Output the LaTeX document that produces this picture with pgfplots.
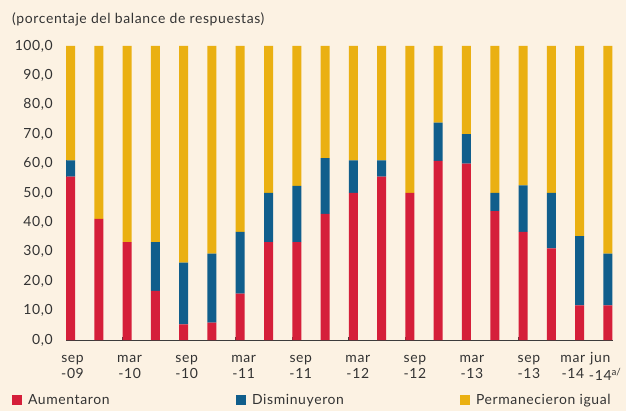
\documentclass[border=0pt]{standalone}
\usepackage{pgfplots}
\pgfplotsset{compat=1.18}
\usepackage{pgfplotstable}
\usepackage{fontspec}
\setmainfont{Lato}[LetterSpace=4.5]
\definecolor{bg}{HTML}{FCF2E3}
\definecolor{cred}{HTML}{D51F3A}
\definecolor{cblue}{HTML}{105E8C}
\definecolor{cyel}{HTML}{EAB012}
\definecolor{txt}{HTML}{333333}
\definecolor{axc}{HTML}{3C3C3C}

\pgfplotstableread{
x A D P
0 55.6 5.5 38.9
1 41.2 0.0 58.8
2 33.3 0.0 66.7
3 16.7 16.6 66.7
4 5.3 21.0 73.7
5 5.9 23.5 70.6
6 15.8 21.0 63.2
7 33.3 16.7 50.0
8 33.3 19.1 47.6
9 42.9 19.0 38.1
10 50.0 11.1 38.9
11 55.6 5.5 38.9
12 50.0 0.0 50.0
13 60.9 13.0 26.1
14 60.0 10.0 30.0
15 43.8 6.2 50.0
16 36.8 15.8 47.4
17 31.2 18.8 50.0
18 11.8 23.5 64.7
19 11.8 17.6 70.6
}\data

\begin{document}
\begin{tikzpicture}
\useasboundingbox (0,0) rectangle (626bp,411bp);
\fill[bg] (0,0) rectangle (626bp,411bp);
\begin{axis}[
  at={(66bp,71bp)}, anchor=south west,
  width=547bp, height=294bp, scale only axis,
  xmin=-0.16, xmax=19.18, ymin=0, ymax=100,
  axis x line*=bottom, axis y line*=left,
  axis line style={draw=axc, line width=0.8pt},
  ybar stacked, bar width=9bp,
  every axis plot post/.append style={legend image code/.code={\fill[##1] (0bp,-5bp) rectangle (10bp,5bp);}},
  tick align=inside, major tick length=3bp, minor tick length=3bp,
  tick style={draw=axc, line width=0.8pt},
  major x tick style={draw=none},
  minor x tick style={draw=axc, line width=0.8pt},
  ytick={0,10,...,100},
  yticklabel style={anchor=east, inner sep=0pt, xshift=-13bp, font=\fontsize{14}{16}\selectfont, text=txt},
  /pgf/number format/.cd, use comma, fixed, fixed zerofill, precision=1, 1000 sep={}, assume math mode=true, /pgfplots/.cd,
  minor xtick={-0.16,1.84,...,17.84},
  xtick={0.07,2.088,4.105,6.122,8.14,10.157,12.174,14.192,16.209,17.76,18.73},
  xticklabels={{\strut sep\\-09},{\strut mar\\-10},{\strut sep\\-10},{\strut mar\\-11},{\strut sep\\-11},{\strut mar\\-12},{\strut sep\\-12},{\strut mar\\-13},{\strut sep\\-13},{\strut mar\\-14},{\strut jun\\-14\rlap{\textsuperscript{\addfontfeature{LetterSpace=0}a/}}}},
  xticklabel style={align=center, anchor=north, inner sep=0pt, yshift=-10.5bp, font=\fontsize{14}{16.5}\selectfont, text=txt},
  legend style={at={(-0.0987,-0.204)}, anchor=west, draw=none, fill=none, legend columns=3, column sep=0pt, inner sep=0pt, outer sep=0pt, nodes={inner sep=0pt, text=txt}, font=\fontsize{14}{16}\selectfont},
]
\addplot[fill=cred, draw=none] table[x=x, y=A] {\data};
\addlegendentry{\makebox[214bp][l]{\hspace{6bp}Aumentaron}}
\addplot[fill=cblue, draw=none] table[x=x, y=D] {\data};
\addlegendentry{\makebox[214bp][l]{\hspace{6bp}Disminuyeron}}
\addplot[fill=cyel, draw=none] table[x=x, y=P] {\data};
\addlegendentry{\hspace{6bp}Permanecieron igual}
\end{axis}
\node[anchor=west, inner sep=0pt, text=txt, font=\fontsize{14}{16}\selectfont] at (12bp,392bp) {(porcentaje del balance de respuestas)};
\end{tikzpicture}
\end{document}
